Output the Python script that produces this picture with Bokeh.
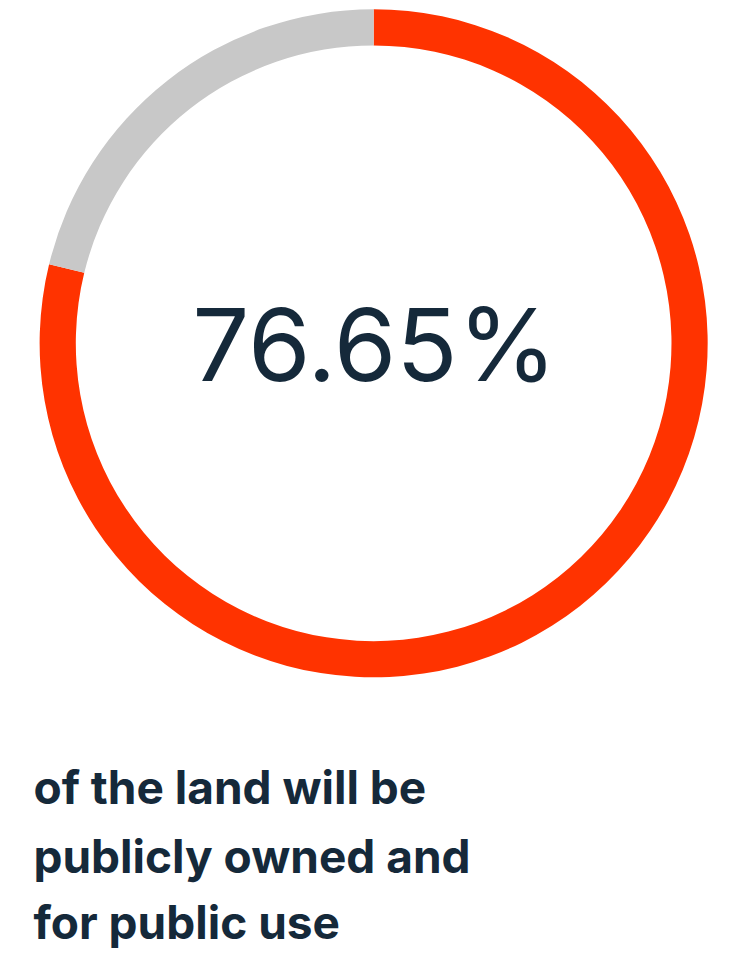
import math
from bokeh.plotting import figure
from bokeh.models import Range1d, ColumnDataSource
from bokeh.core.properties import value
from bokeh.embed import file_html
from bokeh.resources import INLINE

# ---- data ----
categories = ["Publicly owned, public use", "Other"]
shares = [78.8, 21.2]          # arc shares as drawn in the picture
colors = ["#ff3300", "#c8c8c8"]
center_label = "76.65%"
caption_lines = ["of the land will be", "publicly owned and", "for public use"]

# canvas in reference-image coordinates (731 x 978), drawn into a 715 x 962 figure
REF_W, REF_H = 731, 978
W, H = 715, 962
p = figure(width=W, height=H, output_backend="svg", toolbar_location=None,
           x_range=Range1d(0, REF_W), y_range=Range1d(0, REF_H),
           min_border=0)
p.axis.visible = False
p.grid.visible = False
p.outline_line_color = None
p.background_fill_color = "white"
p.border_fill_color = "white"

def Y(y_top):
    return REF_H - y_top

cx, cy = 381.5, Y(348.5)
r_out, r_in = 341.5, 304.5

# red goes clockwise from 12 o'clock, gray fills the rest
starts, ends = [], []
top = math.pi / 2
cum = 0.0
total = sum(shares)
for s in shares:
    a0 = top - 2 * math.pi * (cum + s) / total
    a1 = top - 2 * math.pi * cum / total
    starts.append(a0)
    ends.append(a1)
    cum += s

src = ColumnDataSource(dict(cat=categories, start=starts, end=ends, color=colors))
p.annular_wedge(x=cx, y=cy, inner_radius=r_in, outer_radius=r_out,
                start_angle="start", end_angle="end", color="color",
                line_color=None, direction="anticlock", source=src)

navy = "#15293a"
p.text(x=[382.5], y=[Y(349)], text=[center_label], text_font=value("Inter"),
       text_font_style="normal", text_font_size="101px", text_align="center",
       text_baseline="middle", text_color=navy)

mids = [800, 869.5, 937]
p.text(x=[33.7] * 3, y=[Y(m) for m in mids], text=caption_lines,
       text_font=value("Inter"), text_font_style="bold", text_font_size="46px",
       text_align="left", text_baseline="middle", text_color=navy)

open("out.html", "w").write(file_html(p, INLINE))
